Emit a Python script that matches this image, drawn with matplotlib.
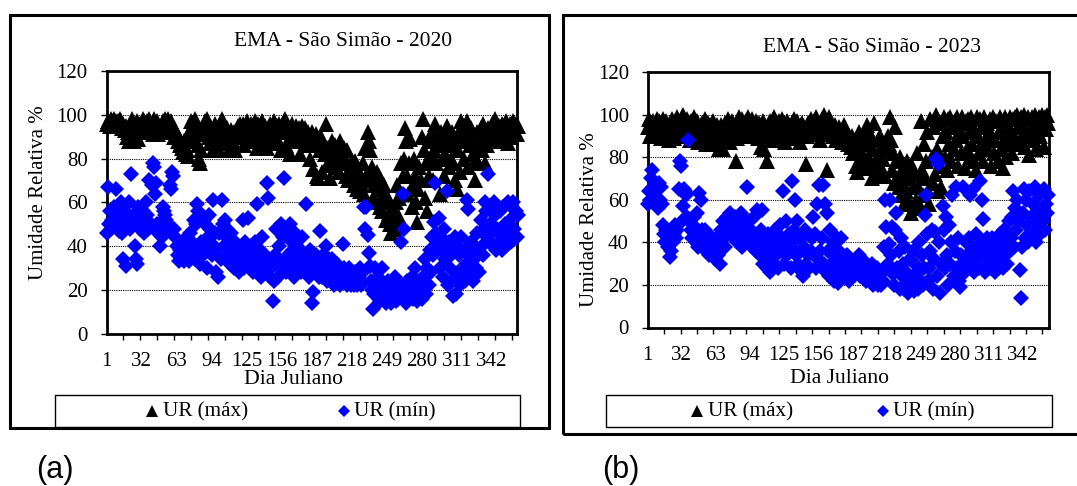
import numpy as np
import matplotlib
matplotlib.use('Agg')
import matplotlib.pyplot as plt
from matplotlib.patches import Rectangle

W, H = 1077, 486

tick_days = [1, 32, 63, 94, 125, 156, 187, 218, 249, 280, 311, 342]
y_ticks = [0, 20, 40, 60, 80, 100, 120]

max_2020 = [96,97,96,95,98,97,96,98,97,95, 97,96,98,97,94,96,93,95,90,92,
            88,90,95,98,88,91,96,97,89,95, 96,93,98,97,95,92,97,96,98,94,
            95,91,98,92,96,97,91,93,92,95, 97,96,98,97,98,96,95,97,94,92,
            90,93,91,88,90,86,87,85,83,88, 82,84,81,92,90,97,94,88,98,95,
            92,86,80,78,84,91,94,97,92,98, 95,90,87,92,84,88,96,93,90,94,
            84,88,98,96,92,87,91,94,84,90, 93,85,88,92,84,91,95,93,96,90,
            92,96,86,93,97,89,95,92,96,88, 94,97,90,85,96,92,94,86,97,93,
            95,90,85,94,92,96,87,93,97,92, 90,95,88,96,84,94,92,97,98,86,
            92,95,82,90,96,94,88,93,95,90, 94,82,91,95,88,93,94,86,92,90,
            80,88,92,75,86,91,72,71,88,84, 90,74,87,82,96,85,78,77,71,83,
            88,80,86,76,84,79,74,88,82,78, 85,80,72,84,70,70,76,79,72,68,
            79,74,66,70,65,72,68,78,64,85, 72,92,88,84,70,76,62,68,60,74,
            66,72,58,70,56,64,68,52,60,62, 55,50,46,52,57,48,60,68,54,62,
            50,78,72,80,94,88,72,64,78,89, 58,68,80,72,60,51,66,76,70,90,
            98,84,62,78,56,72,88,80,92,70, 84,96,78,90,86,64,92,80,88,72,
            82,95,90,76,86,80,92,78,70,88, 66,84,92,74,97,88,80,94,90,97,
            76,90,86,94,82,88,70,80,92,78, 86,94,84,96,90,78,92,86,94,88,
            92,96,90,94,98,92,90,95,88,94, 96,90,94,88,97,87,93,96,90,94,
            97,92,96,91,95]
min_2020 = [46,67,50,56,48,52,55,58,66,54, 50,47,52,60,46,34,56,31,52,50,
            60,48,73,50,54,40,34,32,58,52, 48,52,56,46,50,60,54,48,70,50,
            68,78,76,64,69,50,46,40,51,44, 58,56,54,52,50,48,68,66,74,72,
            48,44,40,36,33,38,34,42,36,33, 40,44,36,33,46,38,42,52,34,50,
            59,56,38,32,42,36,52,50,40,30, 44,54,48,36,61,40,46,28,38,26,
            46,34,61,50,40,52,44,48,36,32, 46,38,36,30,42,34,40,28,32,36,
            38,52,30,42,34,53,36,32,40,30, 28,42,36,59,34,30,38,26,44,32,
            36,28,69,62,34,26,30,15,24,36, 48,32,26,40,50,30,44,71,34,28,
            46,36,50,30,42,38,26,46,34,40, 30,38,28,44,34,36,28,59,30,26,
            38,32,14,19,30,36,28,34,26,47, 32,26,36,28,40,24,30,34,26,28,
            34,22,30,26,32,24,28,22,26,41, 30,24,28,22,26,30,22,24,26,22,
            28,24,22,26,30,22,24,28,58,48, 58,45,37,31,24,20,11,18,30,22,
            26,20,15,18,30,16,22,14,18,24, 16,20,14,24,18,26,15,20,16,22,
            18,42,64,48,20,14,24,16,22,18, 26,16,20,30,18,15,24,18,22,16,
            26,20,34,18,30,22,38,28,44,36, 51,69,46,40,53,30,44,38,26,48,
            34,65,22,42,30,36,24,17,44,18, 40,28,36,22,44,28,38,24,32,61,
            57,36,28,42,24,34,38,30,46,36, 28,52,40,36,48,60,56,44,73,50,
            58,46,40,60,54,38,48,42,56,46, 38,58,44,50,40,60,46,52,42,58,
            60,48,56,44,54]
max_2023 = [94,98,90,96,92,97,90,95,98,91, 97,93,89,96,98,90,94,97,92,88,
            96,90,98,93,89,97,94,99,92,96, 91,99,100,90,96,93,98,95,88,97,
            92,96,99,90,94,97,87,92,95,96, 90,94,98,86,93,96,90,95,92,97,
            86,93,88,95,91,84,90,95,84,92, 96,88,94,98,90,87,93,97,92,95,
            78,89,96,99,91,94,98,90,95,97, 92,99,90,96,93,98,91,95,97,93,
            89,96,94,85,92,97,84,91,78,95, 90,97,94,88,96,99,91,95,93,97,
            88,94,98,91,96,87,93,97,90,95, 92,96,89,98,94,91,97,93,87,95,
            96,90,94,92,77,90,96,93,98,95, 91,97,94,99,92,96,93,88,98,95,
            100,92,97,74,94,99,91,96,90,93, 95,88,92,90,94,91,89,87,95,90,
            88,92,86,90,88,85,90,82,87,76, 73,84,92,78,88,82,90,75,86,95,
            80,92,76,88,70,84,96,78,72,88, 82,90,75,85,79,72,71,84,90,86,
            99,88,74,82,68,94,78,70,66,80, 62,74,68,58,72,64,78,60,70,54,
            76,66,56,72,60,82,66,58,97,74, 62,86,70,78,92,64,58,98,80,68,
            94,72,100,84,64,96,76,66,90,99, 80,92,74,98,86,99,78,94,84,97,
            88,99,76,92,96,82,99,90,75,97, 84,98,92,80,99,86,94,78,74,99,
            90,82,98,86,94,78,99,88,96,84, 92,98,76,90,99,82,88,97,78,92,
            99,84,94,75,88,99,80,96,86,99, 92,82,98,90,99,86,100,94,88,99,
            96,90,100,85,98,92,99,81,90,99, 94,88,100,84,97,92,99,90,100,94,
            85,99,93,100,96]
min_2023 = [58,64,60,70,74,66,62,58,66,56, 68,60,66,58,48,44,40,46,38,42,
            33,36,46,40,44,48,42,46,65,78, 76,50,57,65,64,62,52,88,50,46,
            42,48,52,44,40,54,38,63,60,46, 42,38,46,36,40,44,34,38,42,36,
            40,32,36,42,34,38,30,46,50,42, 38,46,52,44,48,54,50,46,42,52,
            44,40,50,42,48,54,38,46,42,50, 66,44,50,40,46,38,44,52,36,55,
            42,38,34,46,55,30,40,34,28,44, 38,26,32,42,36,30,46,34,28,40,
            48,36,42,64,30,38,50,34,44,38, 28,69,40,46,60,34,50,30,42,36,
            26,24,38,46,30,44,34,28,36,42, 52,34,44,28,58,32,67,36,42,67,
            30,58,26,54,36,24,46,30,40,22, 34,28,42,21,36,26,42,32,24,30,
            26,34,28,22,32,26,30,24,28,32, 26,30,34,24,28,32,26,30,22,28,
            24,28,22,26,30,20,24,22,28,20, 24,22,20,26,22,38,60,47,30,39,
            60,34,47,25,20,46,54,28,36,18, 42,24,30,18,38,26,20,16,32,18,
            22,36,17,30,20,26,18,40,22,34, 20,28,53,62,44,22,28,36,46,18,
            32,45,79,24,77,40,16,30,57,46, 28,52,34,20,48,30,40,62,24,36,
            66,28,42,22,19,34,30,66,26,40, 34,28,42,62,30,38,65,26,44,32,
            36,28,69,40,60,51,34,26,42,30, 38,28,34,42,30,36,26,40,34,28,
            44,32,38,28,46,34,40,30,50,36, 42,52,64,38,56,46,60,50,27,14,
            38,54,65,42,60,48,40,64,52,44, 58,46,66,40,54,48,62,44,56,50,
            65,46,58,54,62]

plt.rcParams['font.family'] = ['Liberation Serif', 'DejaVu Serif']
fig = plt.figure(figsize=(W / 100, H / 100), dpi=100)


def fx(x):
    return x / W


def fy(y):
    return 1 - y / H


def box(x0, y0, x1, y1, lw, color='k'):
    fig.add_artist(Rectangle((fx(x0), fy(y1)), (x1 - x0) / W, (y1 - y0) / H, transform=fig.transFigure,
                             fill=False, edgecolor=color, linewidth=lw, clip_on=False))


def panel(left, top, right, bottom, xmax, tick_step, hi, lo, title, title_x, title_y, ylab_x, ylab_y, xlab_x, xlab_y):
    ax = fig.add_axes([fx(left), fy(bottom), (right - left) / W, (bottom - top) / H])
    days = np.arange(1, len(hi) + 1)
    ax.plot(days, hi, '^', color='k', ms=11.5, mew=0, clip_on=False, zorder=3)
    ax.plot(days, lo, 'D', color='#0000ff', ms=7.8, mew=0, clip_on=False, zorder=4)
    ax.set_xlim(1, xmax)
    ax.set_ylim(0, 120)
    ax.set_yticks(y_ticks)
    ax.set_xticks(tick_days)
    ax.set_xticks(np.arange(1, xmax, tick_step), minor=True)
    ax.tick_params(axis='y', labelsize=15, length=4.5, width=1, pad=9)
    ax.tick_params(axis='x', which='major', labelsize=15, length=0, pad=13.5)
    ax.tick_params(axis='x', which='minor', length=4.5, width=1)
    for v in y_ticks[1:-1]:
        ax.axhline(v, color='k', lw=0.8, ls=(0, (1, 1)), zorder=1)
    for s in ax.spines.values():
        s.set_linewidth(2)
    fig.text(fx(title_x), fy(title_y), title, fontsize=15.5, ha='center', va='center')
    fig.text(fx(ylab_x), fy(ylab_y), 'Umidade Relativa %', fontsize=15, rotation=90, ha='center', va='center')
    fig.text(fx(xlab_x), fy(xlab_y), 'Dia Juliano', fontsize=15.6, ha='center', va='center')
    return ax


panel(106.5, 71, 517, 333.5, 364.3, 14.94, max_2020, min_2020, 'EMA - São Simão - 2020', 343, 41, 39, 193, 293, 379.5)
panel(647.7, 72, 1049, 327.5, 365.8, 14.95, max_2023, min_2023, 'EMA - São Simão - 2023', 872, 47, 590, 220, 839, 378.5)

# outer frames, the second one runs off the right edge
box(10, 15, 549, 428, 2.2)
box(563, 15, 1090, 434, 2.2)

# legend boxes
box(55, 394.5, 520, 427, 1)
box(606, 394.5, 1052, 427, 1)

leg_ax = fig.add_axes([0, 0, 1, 1], facecolor='none')
leg_ax.set_xlim(0, W)
leg_ax.set_ylim(H, 0)
leg_ax.axis('off')
for tri_x, dia_x in [(152, 343.7), (697, 883)]:
    leg_ax.plot([tri_x], [410.7], '^', color='k', ms=9, mew=0)
    leg_ax.plot([dia_x], [410.7], 'D', color='#0000ff', ms=6.4, mew=0)
    leg_ax.text(tri_x + 11, 411.5, 'UR (máx)', fontsize=15.2, ha='left', va='center')
    leg_ax.text(dia_x + 10, 411.5, 'UR (mín)', fontsize=15.2, ha='left', va='center')

fig.text(fx(54.5), fy(470), '(a)', fontsize=22, family='Liberation Sans', ha='center', va='center')
fig.text(fx(620.5), fy(470), '(b)', fontsize=22, family='Liberation Sans', ha='center', va='center')

fig.savefig('out.png', dpi=100)
